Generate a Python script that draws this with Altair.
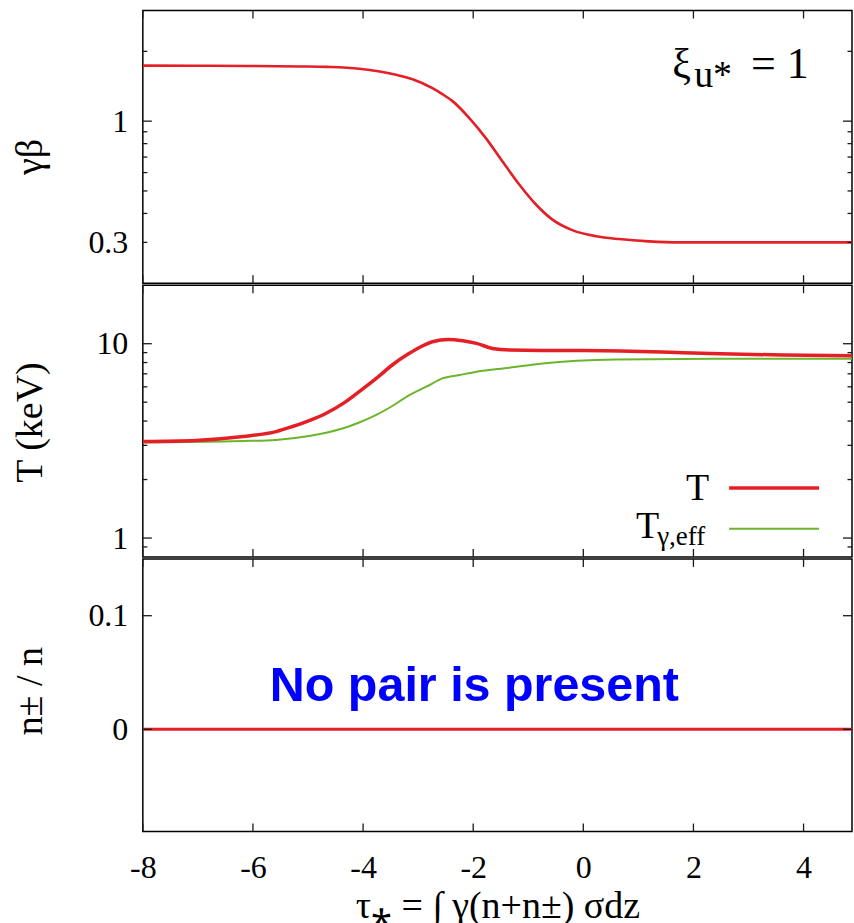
import altair as alt
import pandas as pd

# ---------------- data ----------------
tau_gb = [-8, -7.04, -6.09, -5.13, -4.65, -4.07, -3.70, -3.40, -3.10, -2.74, -2.56, -2.37,
          -2.07, -1.77, -1.47, -1.16, -0.86, -0.56, -0.19, 0.23, 0.65, 1.19, 1.76, 2.53, 3.48, 4.88]
gamma_beta = [1.735, 1.733, 1.730, 1.722, 1.714, 1.684, 1.638, 1.584, 1.517, 1.388, 1.308, 1.217,
              1.031, 0.845, 0.671, 0.532, 0.437, 0.376, 0.338, 0.319, 0.310, 0.303, 0.300, 0.300,
              0.300, 0.300]

tau_T = [-8, -7.04, -6.18, -5.58, -5.28, -4.98, -4.67, -4.36, -4.07, -3.76, -3.47, -3.16,
         -2.95, -2.74, -2.45, -2.19, -1.94, -1.65, -1.34, -0.74, -0.01, 1.81, 3.62, 4.88]
T_gas = [3.14, 3.18, 3.33, 3.53, 3.75, 4.02, 4.39, 4.93, 5.67, 6.63, 7.77, 8.92,
         9.65, 10.24, 10.52, 10.36, 10.04, 9.45, 9.27, 9.22, 9.22, 8.99, 8.74, 8.67]

tau_Tg = [-8, -6.79, -6.18, -5.58, -4.98, -4.67, -4.36, -4.07, -3.76, -3.47, -3.16, -2.85,
          -2.56, -2.25, -1.94, -1.34, -0.74, 0.60, 2.42, 4.88]
T_gam = [3.10, 3.13, 3.16, 3.20, 3.35, 3.48, 3.67, 3.93, 4.30, 4.78, 5.44, 6.01,
         6.63, 6.90, 7.18, 7.53, 7.92, 8.30, 8.37, 8.37]

tau_pair = [-8, 4.88]
pair_frac = [0, 0]

x_tick_values = [-8, -6, -4, -2, 0, 2, 4]
gb_labels = [0.3, 1]
gb_major = [1]
gb_minor = [0.3, 0.4, 0.5, 0.6, 0.7, 0.8, 0.9, 2]
T_labels = [1, 10]
T_major = [1, 10]
T_minor = [0.9, 2, 3, 4, 5, 6, 7, 8, 9]
p_labels = [0, 0.1]
p_major = [0, 0.1]

legend_labels = ["T", "T", "\u03b3,eff"]
title_x = "\u03c4\u204e =  \u222b  \u03b3(n+n\u00b1) \u03c3dz"

# ---------------- styling ----------------
FONT = "Liberation Serif"
RED = "#e41f26"
GREEN = "#6cb42c"
AX = "#1a1a1a"
W = 710
H1, H2, H3 = 273, 272, 273

xscale = alt.Scale(domain=[-8, 4.88], nice=False, zero=False)
s_gb = alt.Scale(type="log", domain=[0.2, 3.0], nice=False)
s_T = alt.Scale(type="log", domain=[0.8, 20], nice=False)
s_p = alt.Scale(domain=[-0.09, 0.15], nice=False, zero=False)


def yaxis(values, title, ty):
    return alt.Axis(values=values, format="~g", ticks=False, domain=False, grid=False,
                    labelFont=FONT, labelFontSize=32, labelColor="black", labelPadding=15,
                    title=title, titleFont=FONT, titleFontSize=38, titleFontWeight="normal",
                    titleColor="black", titleAngle=270, titleX=-101, titleY=ty,
                    titleAlign="center", titleBaseline="alphabetic")


xaxis_bottom = alt.Axis(values=x_tick_values, ticks=False, domain=False, grid=False,
                        labelExpr="datum.value < 0 ? '-' + format(-datum.value, 'd') : format(datum.value, 'd')",
                        labelFont=FONT, labelFontSize=32, labelColor="black", labelPadding=21,
                        labelFlush=False, labelOverlap=False,
                        title=title_x, titleFont=FONT, titleFontSize=38, titleFontWeight="normal",
                        titleColor="black", titleY=86, titleBaseline="alphabetic")


def make_panel(h, yscale, yax, xax, lines, y_major, y_minor, extras):
    """Every layer of a panel carries the same axis definitions."""
    def X(field):
        return alt.X(field, scale=xscale, axis=xax)

    def Y(field):
        return alt.Y(field, scale=yscale, axis=yax)

    layers = []
    for xs, ys, color, width in lines:
        df = pd.DataFrame({"tau": xs, "val": ys})
        layers.append(alt.Chart(df).mark_line(color=color, strokeWidth=width, clip=True,
                                              strokeJoin="round",
                                              interpolate="monotone").encode(
            x=X("tau:Q"), y=Y("val:Q")))
    for vals, length in ((y_major, 9), (y_minor, 4.5)):
        if not vals:
            continue
        df = pd.DataFrame({"v": vals})
        layers.append(alt.Chart(df).mark_rule(color=AX, strokeWidth=1.3).encode(
            y=Y("v:Q"), x=alt.value(0), x2=alt.value(length)))
        layers.append(alt.Chart(df).mark_rule(color=AX, strokeWidth=1.3).encode(
            y=Y("v:Q"), x=alt.value(W - length), x2=alt.value(W)))
    dfx = pd.DataFrame({"v": x_tick_values})
    layers.append(alt.Chart(dfx).mark_rule(color=AX, strokeWidth=1.3).encode(
        x=X("v:Q"), y=alt.value(0), y2=alt.value(8)))
    layers.append(alt.Chart(dfx).mark_rule(color=AX, strokeWidth=1.3).encode(
        x=X("v:Q"), y=alt.value(h - 8), y2=alt.value(h)))
    for kind, spec in extras:
        if kind == "text":
            x, y, text, size, align, font, color, weight = spec
            df = pd.DataFrame({"x": [x], "y": [y], "t": [text]})
            layers.append(alt.Chart(df).mark_text(font=font, fontSize=size, align=align,
                                                  baseline="alphabetic", color=color,
                                                  fontWeight=weight).encode(
                x=X("x:Q"), y=Y("y:Q"), text="t:N"))
        elif kind == "rule":
            x1, x2, y, color, width = spec
            df = pd.DataFrame({"x": [x1], "x2": [x2], "y": [y]})
            layers.append(alt.Chart(df).mark_rule(color=color, strokeWidth=width).encode(
                x=X("x:Q"), x2="x2:Q", y=Y("y:Q")))
    return alt.layer(*layers).properties(width=W, height=h)


# ---------------- top panel ----------------
top = make_panel(
    H1, s_gb, yaxis(gb_labels, "\u03b3\u03b2", 146), None,
    [(tau_gb, gamma_beta, RED, 2.6)],
    gb_major, gb_minor,
    [("text", (1.614, 1.528, "\u03be", 42, "left", FONT, "black", "normal")),
     ("text", (2.013, 1.398, "u*", 38, "left", FONT, "black", "normal")),
     ("text", (3.047, 1.528, "= 1", 44, "left", FONT, "black", "normal"))],
)

# ---------------- middle panel ----------------
mid = make_panel(
    H2, s_T, yaxis(T_labels, "T (keV)", 137), None,
    [(tau_Tg, T_gam, GREEN, 2.0), (tau_T, T_gas, RED, 3.5)],
    T_major, T_minor,
    [("rule", (2.648, 4.281, 1.810, RED, 3.5)),
     ("rule", (2.648, 4.281, 1.118, GREEN, 2.0)),
     ("text", (2.285, 1.570, legend_labels[0], 38, "right", FONT, "black", "normal")),
     ("text", (1.378, 1.0016, legend_labels[1], 38, "right", FONT, "black", "normal")),
     ("text", (1.342, 0.922, legend_labels[2], 27, "left", FONT, "black", "normal"))],
)

# ---------------- bottom panel ----------------
bot = make_panel(
    H3, s_p, yaxis(p_labels, "n\u00b1 / n", 132), xaxis_bottom,
    [(tau_pair, pair_frac, RED, 3.0)],
    p_major, [],
    [("text", (-1.978, 0.0252, "No pair is present", 48.5, "center", "Liberation Sans",
               "#0000ff", "bold"))],
)

# panels share their borders (the layout otherwise leaves a few pixels between
# them), and the whole SVG stays inside the 854 x 923 window so it is never shrunk
chart = alt.vconcat(top, mid, bot, spacing=-6).configure_view(
    stroke="black", strokeWidth=1.5
).properties(
    padding={"left": 11, "top": 8, "right": 0, "bottom": 0},
    background="white",
)

chart.save("out.html", embed_options={"renderer": "svg", "actions": False})
